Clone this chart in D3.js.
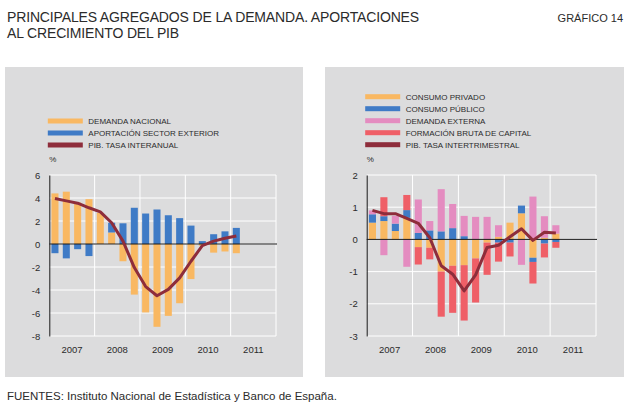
<!DOCTYPE html>
<html>
<head>
<meta charset="utf-8">
<script src="https://cdn.jsdelivr.net/npm/d3@7"></script>
<style>
  body { margin: 0; background: #fff; }
  svg { font-family: "Liberation Sans", Arial, sans-serif; }
</style>
</head>
<body>
<div id="chart"></div>
<script>
// categories
var years = [2007, 2008, 2009, 2010, 2011];
var quarterNames = ["I", "II", "III", "IV"];
var quarters = [];
years.forEach(function(y) {
  quarterNames.forEach(function(q) { quarters.push(q + " " + y); });
});

// left panel: contributions to year-on-year GDP growth
var demandaNacional = [4.4, 4.55, 3.6, 3.9, 2.7, 1.0, -1.5, -4.4, -5.95, -7.2, -6.25, -5.15, -3.05, -0.15, -0.75, -0.65, -0.8];
var sectorExterior = [-0.8, -1.25, -0.45, -1.05, 0.0, 0.85, 1.8, 3.15, 2.65, 3.0, 2.5, 2.25, 1.6, 0.25, 0.85, 1.1, 1.4];
var pibInteranual = [3.95, 3.75, 3.55, 3.15, 2.8, 1.85, 0.25, -2.05, -3.7, -4.5, -3.95, -2.95, -1.5, -0.15, 0.25, 0.5, 0.7];
var leftTicks = [6, 4, 2, 0, -2, -4, -6, -8];

// right panel: contributions to quarter-on-quarter GDP growth
var consumoPrivado = [0.52, 0.57, 0.26, 0.67, -0.24, -0.26, -1.0, -0.82, -0.8, -0.59, -0.1, 0.08, 0.52, 0.81, -0.57, 0.05, 0.18];
var consumoPublico = [0.26, 0.15, 0.23, 0.24, 0.2, 0.28, 0.25, 0.35, 0.1, 0.0, 0.0, -0.1, -0.1, 0.24, -0.13, -0.13, -0.08];
var demandaExterna = [0.12, -0.49, 0.24, -0.85, 1.04, 0.29, 1.31, 0.75, 0.63, 0.7, 0.7, 0.36, 0.0, -0.79, 1.33, 0.67, 0.26];
var formacionBruta = [0.0, 0.59, 0.0, 0.47, -0.54, -0.36, -1.4, -1.46, -1.72, -1.37, -1.0, -0.59, -0.43, 0.0, -0.67, -0.43, -0.18];
var pibIntertrimestral = [0.9, 0.8, 0.8, 0.65, 0.5, 0.05, -0.82, -1.08, -1.6, -1.1, -0.25, -0.18, 0.08, 0.33, -0.03, 0.22, 0.2];
var rightTicks = [2, 1, 0, -1, -2, -3];

var orange = "#f9b862",
    blue = "#3f7bc6",
    pink = "#e48cc0",
    red = "#ef5f67",
    wine = "#8e2d3b",
    panelGrey = "#dcdcdd",
    textCol = "#2b2b2b";

var width = 632, height = 414;

var svg = d3.select("#chart")
  .append("svg")
  .attr("width", width)
  .attr("height", height);

// titles
svg.append("text")
  .attr("x", 7).attr("y", 22)
  .attr("font-size", 14).attr("letter-spacing", -0.15)
  .attr("fill", textCol)
  .text("PRINCIPALES AGREGADOS DE LA DEMANDA. APORTACIONES");
svg.append("text")
  .attr("x", 7).attr("y", 38)
  .attr("font-size", 14).attr("letter-spacing", -0.15)
  .attr("fill", textCol)
  .text("AL CRECIMIENTO DEL PIB");
svg.append("text")
  .attr("x", 623).attr("y", 22)
  .attr("text-anchor", "end")
  .attr("font-size", 11)
  .attr("fill", textCol)
  .text("GRÁFICO 14");
svg.append("text")
  .attr("x", 7).attr("y", 400)
  .attr("font-size", 11.5)
  .attr("fill", textCol)
  .text("FUENTES: Instituto Nacional de Estadística y Banco de España.");

function drawPanel(cfg) {
  var g = svg.append("g");

  g.append("rect")
    .attr("x", cfg.px).attr("y", 67)
    .attr("width", cfg.pw).attr("height", 310)
    .attr("fill", panelGrey);

  var x0 = cfg.x0, x1 = cfg.x1, yTop = 175, yBot = 336;

  var y = d3.scaleLinear()
    .domain([cfg.ticks[cfg.ticks.length - 1], cfg.ticks[0]])
    .range([yBot, yTop]);

  var xYear = d3.scaleLinear()
    .domain([years[0], years[years.length - 1] + 1])
    .range([x0, x1]);

  var xq = d3.scaleBand()
    .domain(quarters)
    .range([x0, x1])
    .paddingInner(0.38)
    .paddingOuter(0.19);

  // white grid
  g.append("g")
    .selectAll("line.h")
    .data(cfg.ticks)
    .enter()
    .append("line")
    .attr("x1", x0).attr("x2", x1)
    .attr("y1", function(d) { return y(d); })
    .attr("y2", function(d) { return y(d); })
    .style("stroke", "#fff")
    .style("stroke-width", 1);

  g.append("g")
    .selectAll("line.v")
    .data(years.map(function(d) { return d + 1; }))
    .enter()
    .append("line")
    .attr("x1", function(d) { return xYear(d); })
    .attr("x2", function(d) { return xYear(d); })
    .attr("y1", yTop).attr("y2", yBot)
    .style("stroke", "#fff")
    .style("stroke-width", 1);

  // stacked bars
  var n = cfg.series[0].values.length;
  var rows = quarters.slice(0, n).map(function(q, i) {
    var r = { q: q };
    cfg.series.forEach(function(s) { r[s.key] = s.values[i]; });
    return r;
  });

  var stack = d3.stack()
    .keys(cfg.series.map(function(s) { return s.key; }))
    .offset(d3.stackOffsetDiverging);

  var layers = stack(rows);

  g.selectAll("g.layer")
    .data(layers)
    .enter()
    .append("g")
    .attr("fill", function(d, i) { return cfg.series[i].color; })
    .selectAll("rect")
    .data(function(d) { return d; })
    .enter()
    .append("rect")
    .attr("x", function(d) { return xq(d.data.q); })
    .attr("width", xq.bandwidth())
    .attr("y", function(d) { return y(Math.max(d[0], d[1])); })
    .attr("height", function(d) { return Math.abs(y(d[0]) - y(d[1])); });

  // axis: left line, zero line, labels
  var axis = d3.axisLeft(y)
    .tickValues(cfg.ticks)
    .tickSize(0)
    .tickPadding(9)
    .tickFormat(function(d) { return String(d); });

  var ax = g.append("g")
    .attr("transform", "translate(" + x0 + ",0)")
    .call(axis);
  ax.select(".domain").attr("stroke", "#1a1a1a").attr("stroke-width", 1);
  ax.selectAll("text")
    .attr("font-size", 9.5)
    .attr("font-family", "Liberation Sans, Arial, sans-serif")
    .attr("fill", textCol);

  g.append("line")
    .attr("x1", x0).attr("x2", x1 + 1)
    .attr("y1", y(0)).attr("y2", y(0))
    .style("stroke", "#1a1a1a")
    .style("stroke-width", 1);

  // year labels
  g.selectAll("text.year")
    .data(years)
    .enter()
    .append("text")
    .attr("x", function(d) { return xYear(d + 0.5); })
    .attr("y", 353)
    .attr("text-anchor", "middle")
    .attr("font-size", 9.5)
    .attr("fill", textCol)
    .text(function(d) { return d; });

  // GDP line
  var line = d3.line()
    .x(function(d, i) { return xq(quarters[i]) + xq.bandwidth() / 2; })
    .y(function(d) { return y(d); });

  g.append("path")
    .datum(cfg.line.values)
    .attr("d", line)
    .attr("fill", "none")
    .style("stroke", cfg.line.color)
    .style("stroke-width", 3)
    .style("stroke-linejoin", "round");

  // "%" label
  g.append("text")
    .attr("x", x0).attr("y", 162)
    .attr("font-size", 8)
    .attr("fill", textCol)
    .text("%");

  // legend
  var items = cfg.series.map(function(s) { return { label: s.label, color: s.color }; })
    .concat([{ label: cfg.line.label, color: cfg.line.color }]);

  var leg = g.selectAll("g.leg")
    .data(items)
    .enter()
    .append("g")
    .attr("transform", function(d, i) {
      return "translate(" + x0 + "," + (cfg.legendY + i * 12) + ")";
    });
  leg.append("rect")
    .attr("x", -1.5).attr("y", -2.5)
    .attr("width", 35).attr("height", 5)
    .attr("fill", function(d) { return d.color; });
  leg.append("text")
    .attr("x", 39).attr("y", 3)
    .attr("font-size", 8)
    .attr("fill", textCol)
    .text(function(d) { return d.label; });
}

drawPanel({
  px: 5, pw: 298,
  x0: 49.3, x1: 276,
  ticks: leftTicks,
  legendY: 121,
  series: [
    { key: "nacional", label: "DEMANDA NACIONAL", values: demandaNacional, color: orange },
    { key: "exterior", label: "APORTACIÓN SECTOR EXTERIOR", values: sectorExterior, color: blue }
  ],
  line: { label: "PIB. TASA INTERANUAL", values: pibInteranual, color: wine }
});

drawPanel({
  px: 325, pw: 299,
  x0: 366.7, x1: 596,
  ticks: rightTicks,
  legendY: 96.7,
  series: [
    { key: "privado", label: "CONSUMO PRIVADO", values: consumoPrivado, color: orange },
    { key: "publico", label: "CONSUMO PÚBLICO", values: consumoPublico, color: blue },
    { key: "externa", label: "DEMANDA EXTERNA", values: demandaExterna, color: pink },
    { key: "fbc", label: "FORMACIÓN BRUTA DE CAPITAL", values: formacionBruta, color: red }
  ],
  line: { label: "PIB. TASA INTERTRIMESTRAL", values: pibIntertrimestral, color: wine }
});
</script>
</body>
</html>
